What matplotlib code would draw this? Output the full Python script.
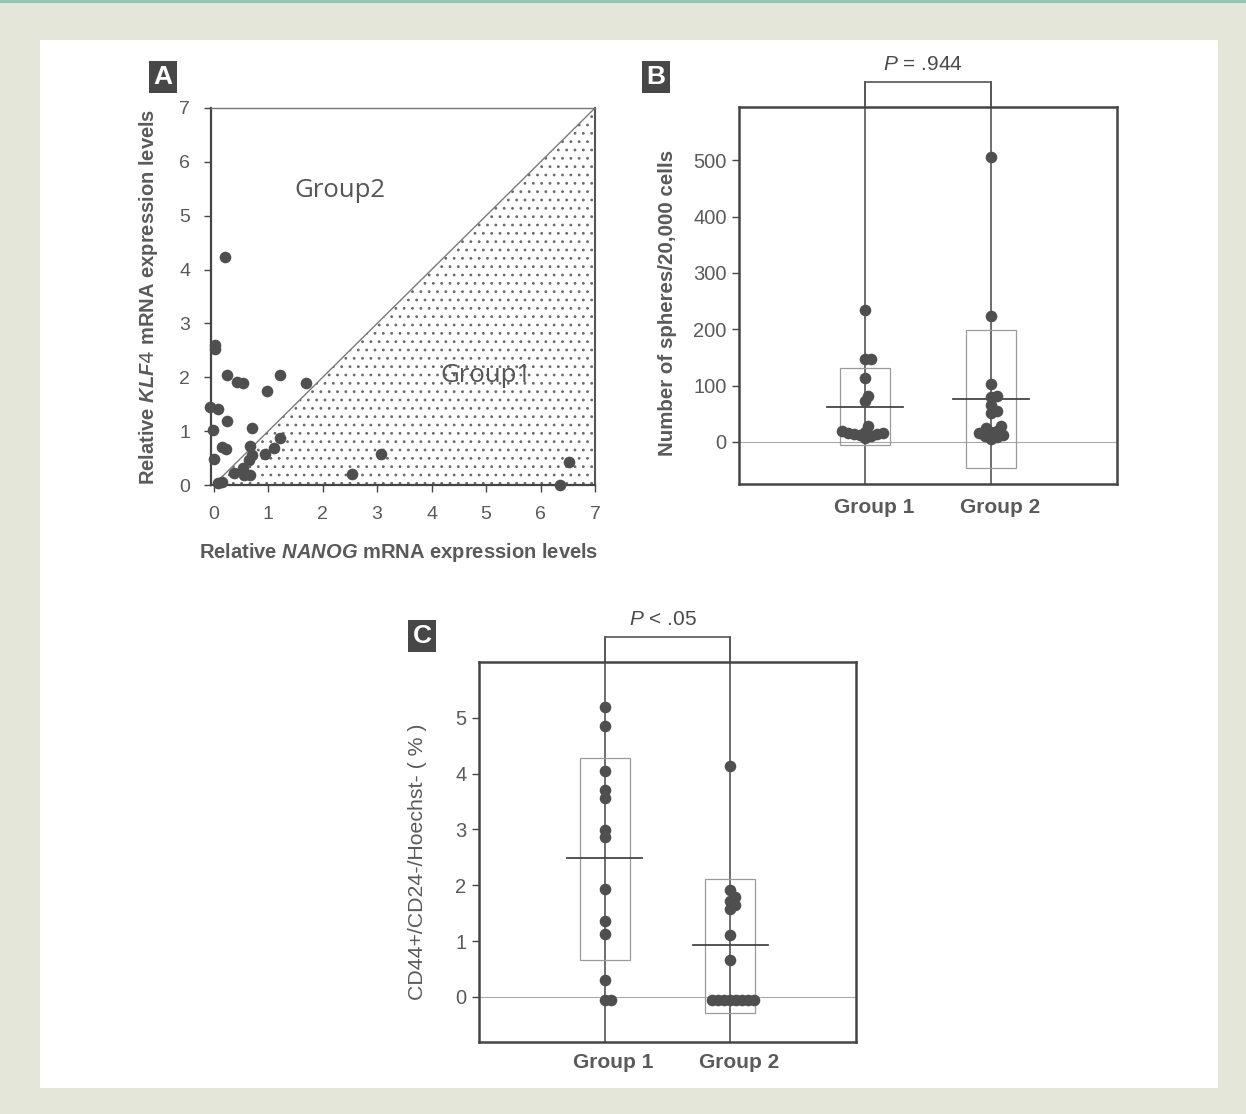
import numpy as np
import matplotlib
matplotlib.use("Agg")
import matplotlib.pyplot as plt
from matplotlib.patches import Rectangle
from matplotlib.transforms import ScaledTranslation

plt.rcParams['font.family'] = ['Liberation Sans', 'DejaVu Sans']
plt.rcParams['mathtext.fontset'] = 'custom'
plt.rcParams['mathtext.it'] = 'Liberation Sans:italic:bold'
plt.rcParams['mathtext.sf'] = 'Liberation Sans:italic'
plt.rcParams['hatch.color'] = '#6a6a6a'
plt.rcParams['hatch.linewidth'] = 0.8

# ---------------- data ----------------
# Panel A: relative NANOG vs KLF4 expression
nanog = [0.20, 0.02, 0.02, 0.25, 0.43, 0.54, 0.98, 1.21, 1.69, -0.06, 0.08, 0.25,
         -0.01, 0.71, 0.15, 0.22, 0.00, 0.67, 0.71, 0.65, 0.95, 1.10, 1.22, 0.37,
         0.54, 0.56, 0.67, 0.08, 0.15, 2.54, 3.07, 6.35, 6.53]
klf4 = [4.23, 2.60, 2.52, 2.05, 1.92, 1.90, 1.74, 2.04, 1.90, 1.45, 1.41, 1.19,
        1.03, 1.06, 0.70, 0.66, 0.49, 0.72, 0.56, 0.46, 0.58, 0.68, 0.88, 0.23,
        0.31, 0.19, 0.19, 0.04, 0.06, 0.20, 0.58, 0.00, 0.42]
a_ticks = [0, 1, 2, 3, 4, 5, 6, 7]

groups = ["Group 1", "Group 2"]

# Panel B: spheres per 20,000 cells
spheres_g1 = [234, 147, 147, 114, 82, 72, 28, 20, 18, 16, 15, 14, 13, 12, 10, 6]
spheres_g2 = [507, 224, 102, 82, 80, 66, 55, 52, 28, 25, 20, 18, 15, 12, 10, 8, 5]
spheres_mean = [62, 76]
spheres_box_low = [-5, -46]
spheres_box_high = [131, 199]
b_ticks = [0, 100, 200, 300, 400, 500]

# Panel C: CD44+/CD24-/Hoechst- (%)
pct_g1 = [5.20, 4.85, 4.04, 3.70, 3.57, 2.99, 2.86, 1.93, 1.35, 1.12, 0.30, -0.05, -0.05]
pct_g2 = [4.14, 1.92, 1.79, 1.72, 1.64, 1.58, 1.10, 0.66,
          -0.05, -0.05, -0.05, -0.05, -0.05, -0.05, -0.05, -0.05]
pct_mean = [2.48, 0.92]
pct_box_low = [0.66, -0.29]
pct_box_high = [4.28, 2.12]
c_ticks = [0, 1, 2, 3, 4, 5]

# ---------------- style ----------------
W, H = 1246, 1114
DOT = '#4f4f4f'
TXT = '#5a5a5a'
SPINE = '#454545'
DOT_S = 70

fig = plt.figure(figsize=(W / 100, H / 100), dpi=100)
fig.patch.set_facecolor('#e3e6d9')
fig.patches.append(Rectangle((40 / W, 1 - 1088 / H), (1218 - 40) / W, (1088 - 40) / H,
                             transform=fig.transFigure, fc='white', ec='none', zorder=-10))
fig.patches.append(Rectangle((0, 1 - 3 / H), 1, 3 / H, transform=fig.transFigure,
                             fc='#8fc6b6', ec='none', zorder=-10))


def add_axes_px(l, t, r, b):
    return fig.add_axes([l / W, 1 - b / H, (r - l) / W, (b - t) / H])


def panel_letter(x, y, s):
    fig.text(x / W, 1 - y / H, s, ha='center', va='center', color='white',
             fontsize=19, fontweight='bold',
             bbox=dict(boxstyle='square,pad=0.16', fc='#474747', ec='none'))


# ---------------- Panel A ----------------
axA = add_axes_px(211, 108, 595, 485)
axA.set_xlim(-0.05, 7)
axA.set_ylim(0, 7)
xx = np.array([0, 7])
axA.fill_between(xx, 0, xx, facecolor='none', edgecolor='#6a6a6a', hatch='..', linewidth=0)
axA.plot(xx, xx, color='#7a7a7a', lw=1.0)
axA.scatter(nanog, klf4, s=DOT_S, color=DOT, zorder=5, clip_on=False, linewidths=0)
axA.set_xticks(a_ticks)
axA.set_yticks(a_ticks)
axA.tick_params(direction='out', length=5, width=1, colors=SPINE, labelcolor=TXT,
                labelsize=14, pad=10)
for side, c, lw in [('left', SPINE, 1.6), ('bottom', SPINE, 1.6), ('top', '#777777', 1.0),
                    ('right', '#555555', 1.5)]:
    axA.spines[side].set_color(c)
    axA.spines[side].set_linewidth(lw)
axA.set_xlabel(r'Relative $\mathit{NANOG}$ mRNA expression levels', fontsize=14.5,
               fontweight='bold', color=TXT)
axA.xaxis.set_label_coords(0.49, -0.178)
axA.xaxis.label.set_va('center')
axA.set_ylabel(r'Relative $\mathit{KLF4}$ mRNA expression levels', fontsize=14.5,
               fontweight='bold', color=TXT)
axA.yaxis.set_label_coords(-0.164, 0.5)
axA.yaxis.label.set_va('center')
axA.text(2.32, 5.46, 'Group2', family='Open Sans', fontsize=18.5, color='#555555',
         ha='center', va='center')
axA.text(4.99, 2.03, 'Group1', family='Open Sans', fontsize=18.5, color='#555555',
         ha='center', va='center')
panel_letter(163, 77, 'A')


# ---------------- swarm helper ----------------
def swarm_x(ax, center, values, dmin=6.0, step=1.0):
    y_px = [ax.transData.transform((center, v))[1] for v in values]
    px_per_x = ax.transData.transform((1, 0))[0] - ax.transData.transform((0, 0))[0]
    order = np.argsort(values)
    placed = []
    xs = np.zeros(len(values))
    for i in order:
        k = 0
        while True:
            cands = [0.0] if k == 0 else [k * step, -k * step]
            ok = None
            for off in cands:
                if all((off - po) ** 2 + (y_px[i] - py) ** 2 >= dmin ** 2 for po, py in placed):
                    ok = off
                    break
            if ok is not None:
                placed.append((ok, y_px[i]))
                xs[i] = center + ok / px_per_x
                break
            k += 1
    return xs


def dot_panel(ax, data, means, lows, highs, ylim, yticks, ylabel, ptext, lab_x, ylabel_kw):
    ax.set_xlim(0, 3)
    ax.set_ylim(*ylim)
    ax.axhline(0, color='#a8a8a8', lw=0.8, zorder=1)
    for i, vals in enumerate(data):
        c = i + 1
        ax.plot([c, c], [0, 1.066], transform=ax.get_xaxis_transform(), color='#555555',
                lw=1.2, clip_on=False, zorder=2)
        ax.add_patch(Rectangle((c - 0.2, lows[i]), 0.4, highs[i] - lows[i], fc='none',
                               ec='#9a9a9a', lw=0.9, zorder=2))
        ax.plot([c - 0.3, c + 0.3], [means[i], means[i]], color='#454545', lw=1.3, zorder=3)
        xs = swarm_x(ax, c, vals)
        ax.scatter(xs, vals, s=DOT_S, color=DOT, zorder=5, linewidths=0, clip_on=False)
    ax.plot([1, 1, 2, 2], [1.0, 1.066, 1.066, 1.0], transform=ax.get_xaxis_transform(),
            color='#555555', lw=1.2, clip_on=False)
    ax.text(1.46, 1.112, ptext, transform=ax.get_xaxis_transform(), ha='center',
            va='center', fontsize=15, color='#4a4a4a')
    ax.set_yticks(yticks)
    ax.set_xticks([1, 2])
    ax.set_xticklabels(groups, fontsize=15, fontweight='bold', color=TXT)
    ax.tick_params(axis='x', length=0, pad=lab_x)
    ax.tick_params(axis='y', direction='out', length=5, width=1, colors=SPINE,
                   labelcolor=TXT, labelsize=14.5, pad=4)
    off = ScaledTranslation(9 / 100, 0, fig.dpi_scale_trans)
    for lab in ax.get_xticklabels():
        lab.set_transform(lab.get_transform() + off)
    for s in ax.spines.values():
        s.set_color(SPINE)
        s.set_linewidth(1.8)
    ax.set_ylabel(ylabel, color=TXT, **ylabel_kw)
    ax.yaxis.label.set_va('center')


# ---------------- Panel B ----------------
axB = add_axes_px(739, 107, 1117, 484)
dot_panel(axB, [spheres_g1, spheres_g2], spheres_mean, spheres_box_low, spheres_box_high,
          (-75, 595), b_ticks, 'Number of spheres/20,000 cells',
          r'$\mathsf{P}$ = .944', 10, dict(fontsize=14.8, fontweight='bold'))
axB.yaxis.set_label_coords(-0.19, 0.48)
panel_letter(656, 77, 'B')

# ---------------- Panel C ----------------
axC = add_axes_px(479, 662, 856, 1042)
dot_panel(axC, [pct_g1, pct_g2], pct_mean, pct_box_low, pct_box_high,
          (-0.81, 6.0), c_ticks, 'CD44+/CD24-/Hoechst- ( % )',
          r'$\mathsf{P}$ < .05', 8, dict(fontsize=15.3))
axC.yaxis.set_label_coords(-0.162, 0.474)
panel_letter(422, 636, 'C')

fig.savefig('out.png', dpi=100, facecolor=fig.get_facecolor())
